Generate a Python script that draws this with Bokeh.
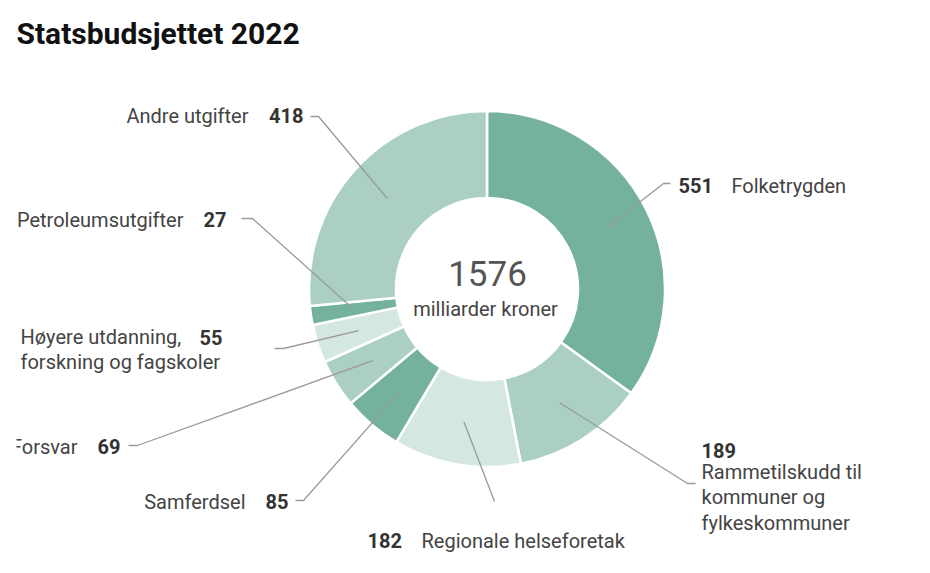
import numpy as np
from bokeh.core.properties import value
from bokeh.embed import file_html
from bokeh.models import ColumnDataSource, Range1d
from bokeh.plotting import figure
from bokeh.resources import INLINE

# data
names = ["Folketrygden", "Rammetilskudd til\nkommuner og\nfylkeskommuner",
         "Regionale helseforetak", "Samferdsel", "Forsvar",
         "Høyere utdanning,\nforskning og fagskoler", "Petroleumsutgifter",
         "Andre utgifter"]
amounts = [551, 189, 182, 85, 69, 55, 27, 418]
total_label = "1576"
unit_label = "milliarder kroner"
title_text = "Statsbudsjettet 2022"

# styling / layout (page pixel coordinates)
colors = ["#74b29b", "#abd0c3", "#d5e7e1", "#74b29b", "#abd0c3", "#d5e7e1",
          "#74b29b", "#abd0c3"]
cx, cy = 486.5, 288.5
r_out, r_in, r_line = 178, 91, 135
W, H = 914, 557

# leader line elbow + end, value pos, name pos, alignment
elbow = [(663, 183), (687, 483), (494, 501), (303, 500), (137, 445),
         (283, 348), (252, 218), (318, 116)]
ends = [(670, 183), (695, 483), (494, 501), (295, 500), (128, 445),
        (274, 348), (241, 218), (310, 116)]
val_pos = [(678, 185), (701, 450), (367, 540), (288, 501), (120, 446),
           (199, 337), (226, 219), (303, 115)]
name_pos = [(731, 185), (701, 497), (421, 540), (245, 501), (77, 446),
            (20, 349), (183, 219), (248, 115)]
align = ["left", "left", "left", "right", "right", "left", "right", "right"]


def Y(py):
    # page y -> data y
    return H - py


p = figure(width=W, height=H, output_backend="svg", toolbar_location=None,
           x_range=Range1d(16, W), y_range=Range1d(0, H - 8),
           min_border_left=16, min_border_right=0, min_border_top=8,
           min_border_bottom=0)
p.axis.visible = False
p.grid.grid_line_color = None
p.outline_line_color = None

# wedges, clockwise from 12 o'clock
vals = np.array(amounts, dtype=float)
cum = np.concatenate([[0], np.cumsum(vals)]) / vals.sum() * 2 * np.pi
theta0, theta1 = cum[:-1], cum[1:]
mid = (theta0 + theta1) / 2
src = ColumnDataSource(dict(start=np.pi / 2 - theta1, end=np.pi / 2 - theta0,
                            color=colors))
p.annular_wedge(x=cx, y=Y(cy), inner_radius=r_in, outer_radius=r_out,
                start_angle="start", end_angle="end", fill_color="color",
                line_color="white", line_width=2.5, source=src)

# leader lines
xs, ys = [], []
for i, m in enumerate(mid):
    sx = cx + r_line * np.sin(m)
    sy = cy - r_line * np.cos(m)
    xs.append([sx, elbow[i][0], ends[i][0]])
    ys.append([Y(sy), Y(elbow[i][1]), Y(ends[i][1])])
p.multi_line(xs, ys, line_color="#9a9a9a", line_width=1.3)

# labels
for i in range(len(amounts)):
    p.text(x=[val_pos[i][0]], y=[Y(val_pos[i][1])], text=[str(amounts[i])],
           text_font=value("Roboto"), text_font_style="bold",
           text_font_size="20px", text_color="#333333",
           text_align=align[i], text_baseline="middle")
    p.text(x=[name_pos[i][0]], y=[Y(name_pos[i][1])], text=[names[i]],
           text_font=value("Roboto"), text_font_size="20px",
           text_color="#444444", text_align=align[i],
           text_baseline="middle", text_line_height=1.05)

# centre text
p.text(x=[487], y=[Y(273)], text=[total_label], text_font=value("Roboto"),
       text_font_size="35px", text_color="#555555", text_align="center",
       text_baseline="middle")
p.text(x=[485], y=[Y(308)], text=[unit_label], text_font=value("Roboto"),
       text_font_size="20px", text_color="#444444", text_align="center",
       text_baseline="middle")

# title
p.text(x=[16], y=[Y(33)], text=[title_text], text_font=value("Roboto"),
       text_font_style="bold", text_font_size="30px", text_color="#111111",
       text_align="left", text_baseline="middle")

open("out.html", "w").write(file_html(p, INLINE))
